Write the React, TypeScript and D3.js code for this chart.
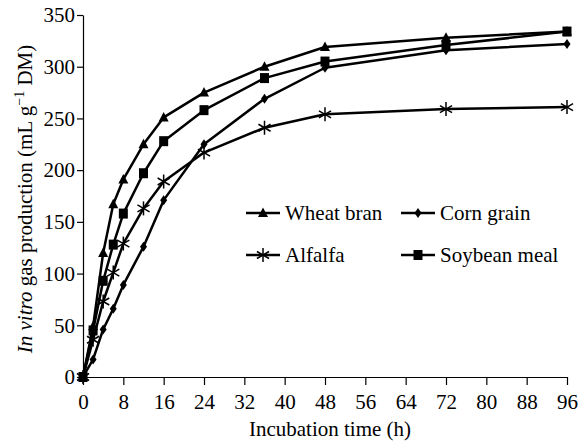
import * as d3 from "d3";
import React from "react";

const hours = [0, 2, 4, 6, 8, 12, 16, 24, 36, 48, 72, 96];
const wheatBran = [0, 49, 120, 167, 191, 225, 251, 275, 300, 319, 328, 334];
const cornGrain = [0, 17, 46, 66, 89, 126, 171, 225, 269, 299, 316, 322];
const alfalfa = [0, 36, 73, 101, 129, 163, 189, 217, 241, 254, 259, 261];
const soybeanMeal = [0, 45, 93, 128, 158, 197, 228, 258, 289, 305, 321, 334];

const xTicks = [0, 8, 16, 24, 32, 40, 48, 56, 64, 72, 80, 88, 96];
const yTicks = [0, 50, 100, 150, 200, 250, 300, 350];

type Marker = "triangle" | "diamond" | "star" | "square";
const series: { name: string; values: number[]; marker: Marker }[] = [
  { name: "Wheat bran", values: wheatBran, marker: "triangle" },
  { name: "Corn grain", values: cornGrain, marker: "diamond" },
  { name: "Alfalfa", values: alfalfa, marker: "star" },
  { name: "Soybean meal", values: soybeanMeal, marker: "square" },
];

const width = 587;
const height = 444;
const font = "'Liberation Serif', 'Times New Roman', serif";

const MarkerShape = ({ type, x, y }: { type: Marker; x: number; y: number }) => {
  if (type === "triangle")
    return <path d={`M${x},${y - 5.5} L${x + 5},${y + 4} L${x - 5},${y + 4} Z`} fill="#000" />;
  if (type === "square")
    return <rect x={x - 4.5} y={y - 5} width={9} height={10} fill="#000" />;
  if (type === "diamond")
    return <path d={`M${x},${y - 5} L${x + 3.5},${y} L${x},${y + 5} L${x - 3.5},${y} Z`} fill="#000" />;
  const r = 7;
  const arms = [90, 30, -30].map((a) => (a * Math.PI) / 180);
  return (
    <g stroke="#000" strokeWidth={1.5}>
      {arms.map((a, i) => (
        <line key={i} x1={x - r * Math.cos(a)} y1={y - r * Math.sin(a)} x2={x + r * Math.cos(a)} y2={y + r * Math.sin(a)} />
      ))}
    </g>
  );
};

export default function App() {
  const xAxisRef = React.useRef<SVGGElement | null>(null);
  const yAxisRef = React.useRef<SVGGElement | null>(null);

  const x = d3.scaleLinear().domain([0, 96]).range([83, 567]);
  const y = d3.scaleLinear().domain([0, 350]).range([377, 15]);

  const line = d3
    .line<number>()
    .x((_, i) => x(hours[i]))
    .y((d) => y(d));

  React.useEffect(() => {
    if (xAxisRef.current) {
      const g = d3.select(xAxisRef.current);
      g.selectAll("*").remove();
      g.call(d3.axisBottom(x).tickValues(xTicks).tickSize(8).tickSizeOuter(0));
      g.select(".domain").attr("stroke-width", 1.2);
      g.selectAll(".tick line").attr("stroke-width", 1.2);
      g.selectAll(".tick text")
        .attr("y", 32)
        .attr("dy", 0)
        .attr("font-family", font)
        .attr("font-size", 21)
        .attr("fill", "#000");
    }
    if (yAxisRef.current) {
      const g = d3.select(yAxisRef.current);
      g.selectAll("*").remove();
      g.call(d3.axisLeft(y).tickValues(yTicks).tickSize(6).tickSizeOuter(0).tickPadding(2));
      g.select(".domain").attr("stroke-width", 1.2);
      g.selectAll(".tick line").attr("stroke-width", 1.2);
      g.selectAll(".tick text")
        .attr("font-family", font)
        .attr("font-size", 21)
        .attr("fill", "#000");
    }
  });

  const legend = [
    { s: series[0], lx: 246, ly: 213 },
    { s: series[1], lx: 401, ly: 213 },
    { s: series[2], lx: 246, ly: 255 },
    { s: series[3], lx: 401, ly: 255 },
  ];

  return (
    <svg width={width} height={height} style={{ position: "absolute", left: 0, top: 0, background: "#fff" }}>
      <g ref={xAxisRef} transform="translate(0,377)" />
      <g ref={yAxisRef} transform="translate(83,0)" />

      {series.map((s) => (
        <g key={s.name}>
          <path d={line(s.values) || ""} fill="none" stroke="#000" strokeWidth={2.5} strokeLinejoin="round" />
          {s.values.map((v, i) => (
            <MarkerShape key={i} type={s.marker} x={x(hours[i])} y={y(v)} />
          ))}
        </g>
      ))}

      {legend.map(({ s, lx, ly }) => (
        <g key={s.name}>
          <line x1={lx} x2={lx + 34} y1={ly} y2={ly} stroke="#000" strokeWidth={2.5} />
          <MarkerShape type={s.marker} x={lx + 17} y={ly} />
          <text x={lx + 39} y={ly + 7} fontFamily={font} fontSize={21} fill="#000">
            {s.name}
          </text>
        </g>
      ))}

      <text x={330} y={436} textAnchor="middle" fontFamily={font} fontSize={21} fill="#000">
        Incubation time (h)
      </text>

      <text transform="translate(32,199) rotate(-90)" textAnchor="middle" fontFamily={font} fontSize={21} fill="#000">
        <tspan fontStyle="italic">In vitro</tspan>
        <tspan> gas production (mL g</tspan>
        <tspan fontSize={14} dy={-8}>−1</tspan>
        <tspan dy={8}> DM)</tspan>
      </text>
    </svg>
  );
}
